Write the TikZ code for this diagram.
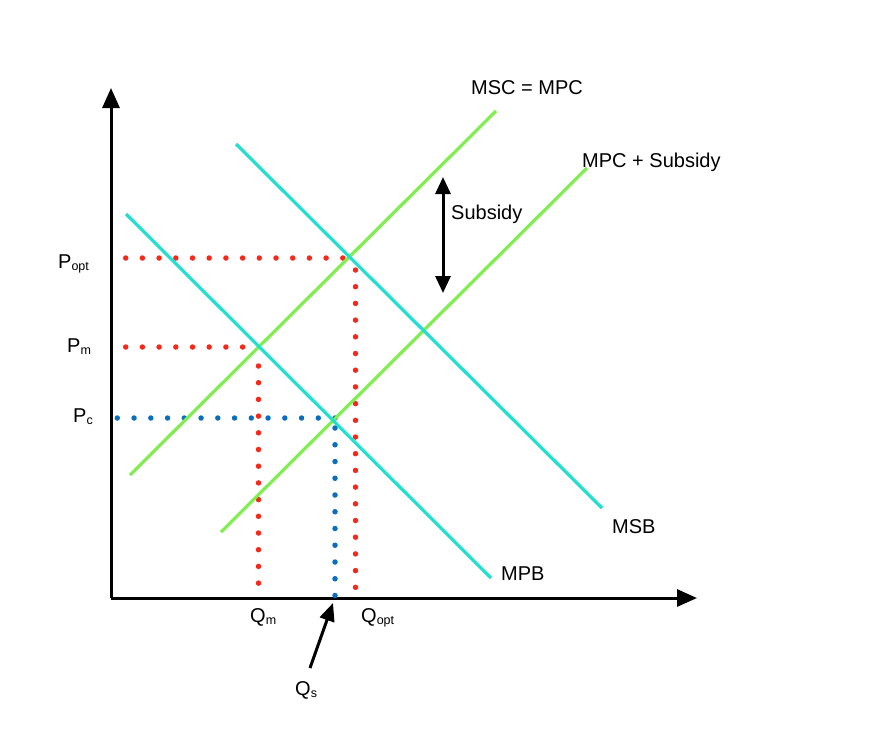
\documentclass[tikz,border=0pt]{standalone}
\usepackage{fontspec}
\setmainfont{Liberation Sans}
\usetikzlibrary{arrows.meta}
\definecolor{lgreen}{HTML}{80EE50}
\definecolor{lcyan}{HTML}{22E0CF}
\definecolor{dred}{HTML}{F5281A}
\definecolor{dblue}{HTML}{0A6EBD}
\newcommand\sbs[1]{\raisebox{-2.5pt}{\fontsize{12.5}{12.5}\selectfont #1}}
\begin{document}
\begin{tikzpicture}[x=1pt,y=-1pt,
  axis/.style={line width=3pt,-{Triangle[width=17pt,length=20pt]}},
  greencurve/.style={lgreen,line width=3.2pt},
  cyancurve/.style={lcyan,line width=3.2pt},
  reddots/.style={dred,line width=5.5pt,line cap=round,dash pattern=on 0pt off 16.7pt},
  bluedots/.style={dblue,line width=5.5pt,line cap=round,dash pattern=on 0pt off 16.75pt},
  lbl/.style={font=\fontsize{20}{24}\selectfont,inner sep=0pt,anchor=base west},
  blackarrow/.style={line width=3pt,-{Triangle[width=15pt,length=18pt]}},
  dblarrow/.style={line width=3pt,{Triangle[width=15pt,length=17pt]}-{Triangle[width=15pt,length=17pt]}}]
\useasboundingbox (0,0) rectangle (894,752);
% axes
\coordinate (O) at (111,598);
\coordinate (ytip) at (111,88);
\coordinate (xtip) at (697,598);
\draw[axis] (O) -- (ytip);
\draw[axis] (O) -- (xtip);
% curves
\coordinate (msc1) at (130,475); \coordinate (msc2) at (496,111);
\coordinate (mps1) at (221,532); \coordinate (mps2) at (587,168);
\coordinate (mpb1) at (126,214); \coordinate (mpb2) at (491,578);
\coordinate (msb1) at (236,144); \coordinate (msb2) at (602,508);
% dotted guides
\coordinate (popth1) at (125.7,258); \coordinate (popth2) at (345,258);
\coordinate (poptv1) at (355.5,270); \coordinate (poptv2) at (355.5,590);
\coordinate (pmh1) at (125.7,347); \coordinate (pmh2) at (245,347);
\coordinate (pmv1) at (258.5,366); \coordinate (pmv2) at (258.5,586);
\coordinate (pch1) at (117.3,418); \coordinate (pch2) at (337,418);
\coordinate (pcv1) at (335,428); \coordinate (pcv2) at (335,598);
\draw[reddots] (popth1) -- (popth2);
\draw[reddots] (poptv1) -- (poptv2);
\draw[reddots] (pmh1) -- (pmh2);
\draw[reddots] (pmv1) -- (pmv2);
\draw[bluedots] (pch1) -- (pch2);
\draw[bluedots] (pcv1) -- (pcv2);
\draw[greencurve] (msc1) -- (msc2);
\draw[greencurve] (mps1) -- (mps2);
\draw[cyancurve] (mpb1) -- (mpb2);
\draw[cyancurve] (msb1) -- (msb2);
% labels
\node[lbl] (popt) at (58,268) {P\sbs{opt}};
\node[lbl] (pm) at (67,352) {P\sbs{m}};
\node[lbl] (pc) at (73,422) {P\sbs{c}};
\node[lbl] (qm) at (250,622) {Q\sbs{m}};
\node[lbl] (qopt) at (361,622) {Q\sbs{opt}};
\node[lbl] (qs) at (295,695) {Q\sbs{s}};
\node[lbl] (msclbl) at (471,95) {MSC = MPC};
\node[lbl] (mpslbl) at (582,167) {MPC + Subsidy};
\node[lbl] (sublbl) at (451,219) {Subsidy};
\node[lbl] (msblbl) at (612,533) {MSB};
\node[lbl] (mpblbl) at (501,580) {MPB};
% arrows
\coordinate (qstail) at (310,668);
\coordinate (qshead) at (333,603);
\draw[blackarrow] (qstail) -- (qshead);
\coordinate (subtop) at (443,177);
\coordinate (subbot) at (443,293);
\draw[dblarrow] (subtop) -- (subbot);
\end{tikzpicture}
\end{document}
